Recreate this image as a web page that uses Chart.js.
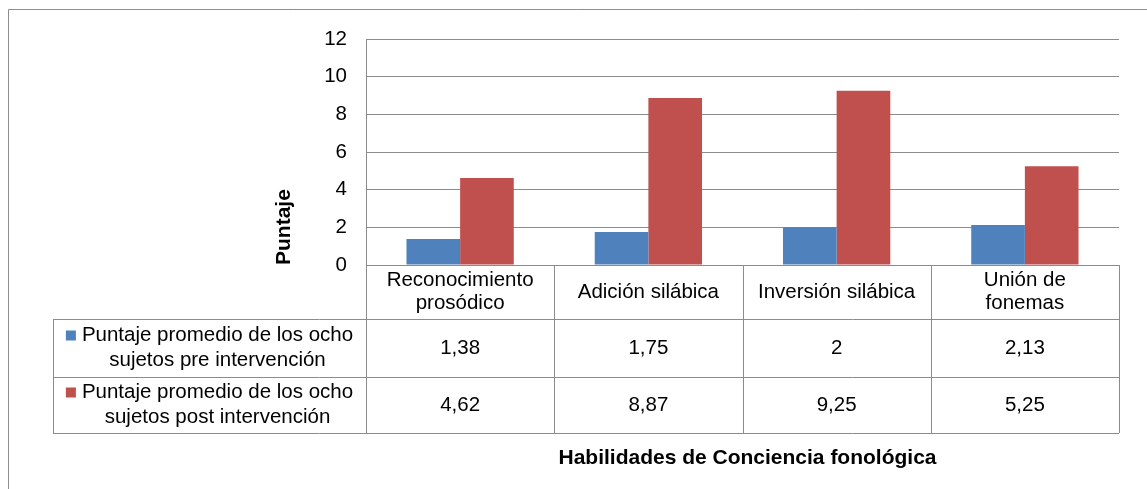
<!DOCTYPE html>
<html>
<head>
<meta charset="utf-8">
<script src="https://cdn.jsdelivr.net/npm/chart.js@4.4.0/dist/chart.umd.min.js"></script>
<style>
  html, body { margin: 0; padding: 0; background: #fff; }
  #wrap { width: 1147px; height: 489px; }
</style>
</head>
<body>
<div id="wrap"><canvas id="myChart" width="1147" height="489"></canvas></div>
<script>
// chart data
const categories = [
    ['Reconocimiento', 'prosódico'],
    ['Adición silábica'],
    ['Inversión silábica'],
    ['Unión de', 'fonemas']
];
const preValues = [1.38, 1.75, 2, 2.13];
const postValues = [4.62, 8.87, 9.25, 5.25];
const preLabels = ['1,38', '1,75', '2', '2,13'];
const postLabels = ['4,62', '8,87', '9,25', '5,25'];
const seriesNames = [
    ['Puntaje promedio de los ocho', 'sujetos pre intervención'],
    ['Puntaje promedio de los ocho', 'sujetos post intervención']
];
const yTicks = [0, 2, 4, 6, 8, 10, 12];

const FONT = '"Liberation Sans", Arial, sans-serif';
const SIZE = 20.5;
const GRID = '#8c8c8c';
const BLUE = '#4f81bd';
const RED = '#c0504d';

// draws the frame, the data table and the x title
const tablePlugin = {
    id: 'dataTable',
    beforeDraw(chart) {
        const c = chart.ctx;
        c.save();
        c.strokeStyle = '#8e8e8e';
        c.lineWidth = 1;
        c.beginPath();
        c.moveTo(8.5, 489);
        c.lineTo(8.5, 9.5);
        c.lineTo(1147, 9.5);
        c.stroke();
        c.restore();
    },
    afterDraw(chart) {
        const c = chart.ctx;
        const x = chart.scales.x;
        const area = chart.chartArea;
        const n = categories.length;
        const colW = (area.right - area.left) / n;
        const top = area.bottom;
        const r1 = top + 54, r2 = r1 + 58, r3 = r2 + 56;
        const legLeft = 53;

        c.save();
        c.strokeStyle = GRID;
        c.lineWidth = 1;
        c.beginPath();
        // horizontal lines
        c.moveTo(area.left, top + 0.5); c.lineTo(area.right, top + 0.5);
        c.moveTo(legLeft, r1 + 0.5); c.lineTo(area.right, r1 + 0.5);
        c.moveTo(legLeft, r2 + 0.5); c.lineTo(area.right, r2 + 0.5);
        c.moveTo(legLeft, r3 + 0.5); c.lineTo(area.right, r3 + 0.5);
        // vertical lines
        c.moveTo(legLeft + 0.5, r1); c.lineTo(legLeft + 0.5, r3);
        for (let i = 0; i <= n; i++) {
            const px = Math.round(area.left + i * colW) + 0.5;
            c.moveTo(px, top); c.lineTo(px, r3);
        }
        c.stroke();

        c.fillStyle = '#000';
        c.font = SIZE + 'px ' + FONT;
        c.textAlign = 'center';
        c.textBaseline = 'middle';
        // header
        categories.forEach((lines, i) => {
            const cx = x.getPixelForValue(i);
            const cy = (top + r1) / 2;
            const lh = 23;
            lines.forEach((t, k) => {
                c.fillText(t, cx, cy + (k - (lines.length - 1) / 2) * lh);
            });
        });
        // values
        for (let i = 0; i < n; i++) {
            const cx = x.getPixelForValue(i);
            c.fillText(preLabels[i], cx, (r1 + r2) / 2);
            c.fillText(postLabels[i], cx, (r2 + r3) / 2);
        }
        // legend cells
        const colors = [BLUE, RED];
        const rows = [[r1, r2], [r2, r3]];
        seriesNames.forEach((lines, s) => {
            const cy = (rows[s][0] + rows[s][1]) / 2;
            const cx = (legLeft + area.left) / 2;
            const w1 = c.measureText(lines[0]).width;
            const total = 10 + 6 + w1;
            const startX = cx - total / 2;
            const textCx = startX + 16 + w1 / 2;
            c.fillStyle = colors[s];
            c.fillRect(startX, cy - 12.5 - 5, 10, 10);
            c.fillStyle = '#000';
            c.fillText(lines[0], textCx, cy - 12.5);
            c.fillText(lines[1], textCx, cy + 12.5);
        });
        // x axis title
        c.font = 'bold 21px ' + FONT;
        c.fillText('Habilidades de Conciencia fonológica', (area.left + area.right) / 2 + 5, 458);
        c.restore();
    }
};

const ctx = document.getElementById('myChart').getContext('2d');
const myChart = new Chart(ctx, {
    type: 'bar',
    data: {
        labels: categories,
        datasets: [{
            label: seriesNames[0].join(' '),
            data: preValues,
            backgroundColor: BLUE,
            borderWidth: 0
        }, {
            label: seriesNames[1].join(' '),
            data: postValues,
            backgroundColor: RED,
            borderWidth: 0
        }]
    },
    options: {
        responsive: false,
        animation: false,
        layout: {
            padding: { left: 272, top: 39, right: 28, bottom: 224 }
        },
        plugins: {
            legend: { display: false },
            tooltip: { enabled: false }
        },
        datasets: {
            bar: { categoryPercentage: 0.57, barPercentage: 1 }
        },
        scales: {
            x: {
                display: false
            },
            y: {
                min: 0,
                max: 12,
                afterBuildTicks: (s) => { s.ticks = yTicks.map(v => ({ value: v })); },
                afterFit: (s) => { s.width = 94; },
                ticks: {
                    padding: 19,
                    color: '#000',
                    font: { family: FONT, size: SIZE }
                },
                grid: {
                    color: GRID,
                    drawTicks: false
                },
                border: { color: GRID },
                title: {
                    display: true,
                    text: 'Puntaje',
                    align: 'start',
                    color: '#000',
                    padding: 0,
                    font: { family: FONT, size: 21, weight: 'bold' }
                }
            }
        }
    },
    plugins: [tablePlugin]
});
</script>
</body>
</html>
